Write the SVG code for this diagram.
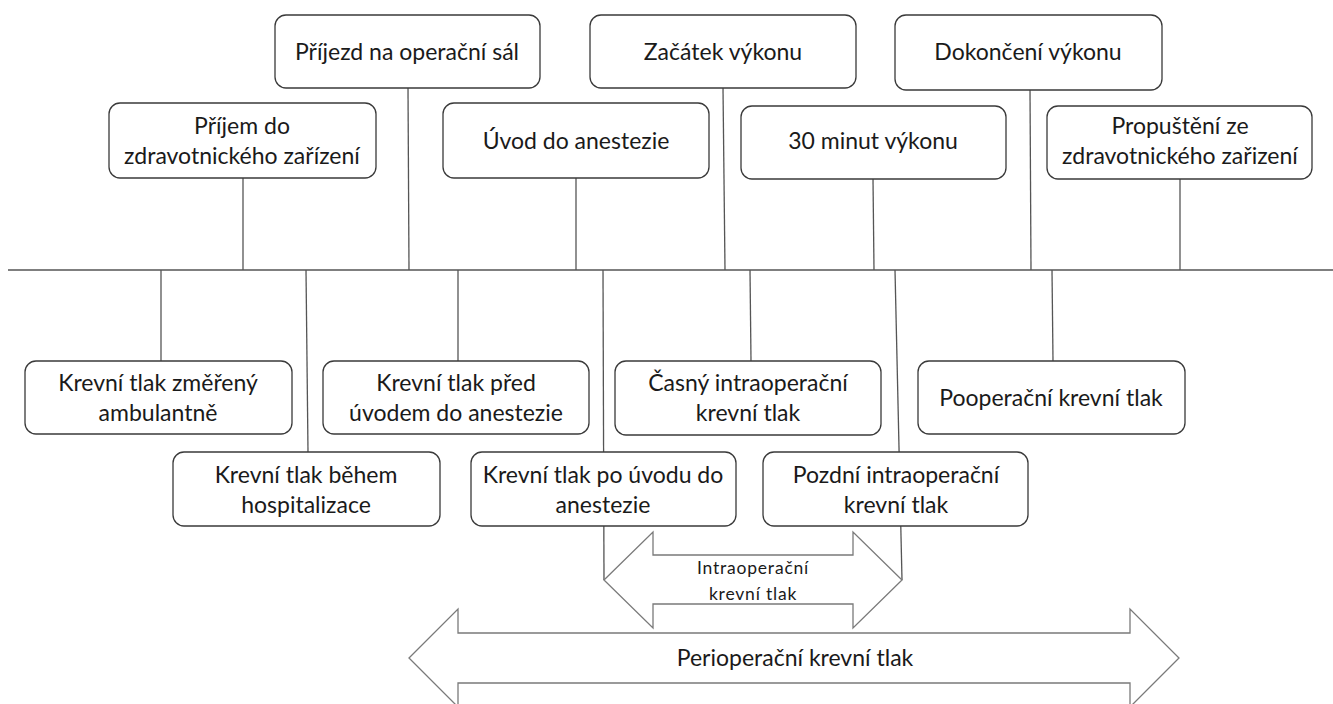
<svg xmlns="http://www.w3.org/2000/svg" width="1333" height="704" viewBox="0 0 1333 704">
<style>
.box{fill:#fff;stroke:#3a3a3a;stroke-width:1.3}
.ln{stroke:#555;stroke-width:1.3;fill:none}
.arr{fill:#fff;stroke:#7a7a7a;stroke-width:1.3}
text{font-family:Lato,"Open Sans","Liberation Sans",sans-serif;font-size:23px;fill:#1a1a1a;text-anchor:middle}
.sm{font-size:17.5px;letter-spacing:0.8px}
</style>
<rect width="1333" height="704" fill="#fff"/>
<g id="connectors">
<line class="ln" x1="8" y1="270" x2="1333" y2="270"/>
<line class="ln" x1="243" y1="178" x2="243" y2="270"/>
<line class="ln" x1="408" y1="88" x2="409" y2="270"/>
<line class="ln" x1="576" y1="178" x2="576" y2="270"/>
<line class="ln" x1="723" y1="88" x2="725" y2="270"/>
<line class="ln" x1="873" y1="179" x2="874" y2="270"/>
<line class="ln" x1="1030" y1="90" x2="1031" y2="270"/>
<line class="ln" x1="1180" y1="179" x2="1180" y2="270"/>
<line class="ln" x1="161" y1="270" x2="161" y2="361"/>
<line class="ln" x1="306" y1="270" x2="308" y2="452"/>
<line class="ln" x1="458" y1="270" x2="458" y2="361"/>
<line class="ln" x1="603" y1="270" x2="604" y2="580"/>
<line class="ln" x1="750" y1="270" x2="751" y2="361"/>
<line class="ln" x1="895" y1="270" x2="902" y2="580"/>
<line class="ln" x1="1052" y1="270" x2="1053" y2="361"/>
</g>
<g id="arrow-intra">
<polygon class="arr" points="604,580 653,532 653,555 853,555 853,532 902,580 853,628 853,604 653,604 653,628"/>
<text class="sm" x="753" y="574">Intraoperační</text>
<text class="sm" x="753" y="600">krevní tlak</text>
</g>
<g id="arrow-peri">
<polygon class="arr" points="409,658 458,609 458,633 1130,633 1130,609 1179,658 1130,707 1130,683 458,683 458,707"/>
<text x="795" y="666">Perioperační krevní tlak</text>
</g>
<g id="n-prijezd"><rect class="box" x="275" y="15" width="265" height="73" rx="11"/><text x="407" y="60">Příjezd na operační sál</text></g>
<g id="n-prijem"><rect class="box" x="109" y="103" width="267" height="75" rx="11"/><text x="242" y="134">Příjem do</text><text x="242" y="164">zdravotnického zařízení</text></g>
<g id="n-uvod"><rect class="box" x="443" y="103" width="266" height="75" rx="11"/><text x="576" y="149">Úvod do anestezie</text></g>
<g id="n-zacatek"><rect class="box" x="590" y="15" width="266" height="73" rx="11"/><text x="723" y="60">Začátek výkonu</text></g>
<g id="n-30min"><rect class="box" x="741" y="106" width="265" height="73" rx="11"/><text x="873" y="149">30 minut výkonu</text></g>
<g id="n-dokonceni"><rect class="box" x="895" y="15" width="267" height="75" rx="11"/><text x="1028" y="60">Dokončení výkonu</text></g>
<g id="n-propusteni"><rect class="box" x="1047" y="106" width="265" height="73" rx="11"/><text x="1180" y="134">Propuštění ze</text><text x="1180" y="164">zdravotnického zařizení</text></g>
<g id="n-ambul"><rect class="box" x="25" y="361" width="267" height="73" rx="11"/><text x="158" y="391">Krevní tlak změřený</text><text x="158" y="421">ambulantně</text></g>
<g id="n-hosp"><rect class="box" x="173" y="452" width="267" height="74" rx="11"/><text x="306" y="483">Krevní tlak během</text><text x="306" y="513">hospitalizace</text></g>
<g id="n-pred"><rect class="box" x="323" y="361" width="266" height="73" rx="11"/><text x="456" y="391">Krevní tlak před</text><text x="456" y="421">úvodem do anestezie</text></g>
<g id="n-po"><rect class="box" x="471" y="452" width="265" height="74" rx="11"/><text x="603" y="483">Krevní tlak po úvodu do</text><text x="603" y="513">anestezie</text></g>
<g id="n-casny"><rect class="box" x="615" y="361" width="266" height="74" rx="11"/><text x="748" y="391">Časný intraoperační</text><text x="748" y="421">krevní tlak</text></g>
<g id="n-pozdni"><rect class="box" x="763" y="452" width="265" height="74" rx="11"/><text x="896" y="483">Pozdní intraoperační</text><text x="896" y="513">krevní tlak</text></g>
<g id="n-pooper"><rect class="box" x="918" y="361" width="267" height="73" rx="11"/><text x="1051" y="406">Pooperační krevní tlak</text></g>
</svg>
